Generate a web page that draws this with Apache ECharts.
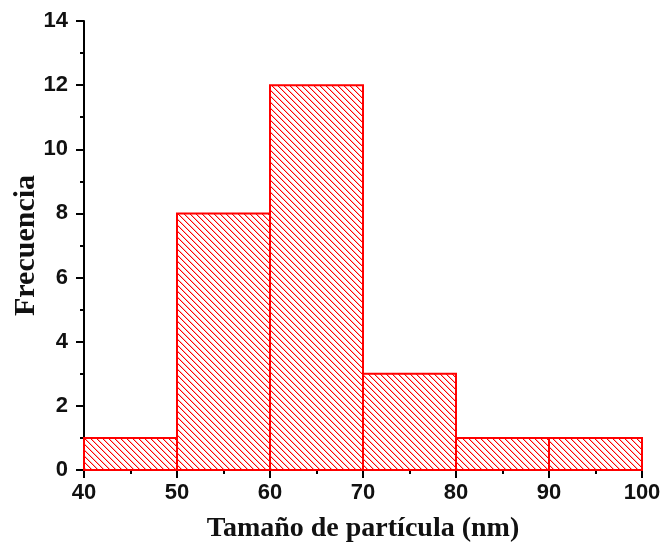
<!DOCTYPE html>
<html>
<head>
<meta charset="utf-8">
<script src="https://cdn.jsdelivr.net/npm/echarts@6/dist/echarts.min.js"></script>
<style>
html,body{margin:0;padding:0;background:#fff;}
#chart{width:662px;height:548px;}
</style>
</head>
<body>
<div id="chart"></div>
<script>
// Histogram bins (nm) and frequencies
const binStarts = [40, 50, 60, 70, 80, 90];
const binEnds   = [50, 60, 70, 80, 90, 100];
const frequencies = [1, 8, 12, 3, 1, 1];
const xTicks = [40, 50, 60, 70, 80, 90, 100];
const yTicks = [0, 2, 4, 6, 8, 10, 12, 14];

// hatch pattern tile
const tile = document.createElement('canvas');
const S = 6;
tile.width = S; tile.height = S;
const tc = tile.getContext('2d');
tc.fillStyle = '#ffffff';
tc.fillRect(0, 0, S, S);
tc.fillStyle = '#ff0000';
for (let i = 0; i < S; i++) { tc.fillRect(i, i, 1, 1); }
tc.globalAlpha = 0.3;
for (let i = 0; i < S; i++) { tc.fillRect((i + 1) % S, i, 1, 1); }

const data = binStarts.map((s, i) => [s, binEnds[i], frequencies[i]]);

const chart = echarts.init(document.getElementById('chart'), null, {renderer: 'canvas'});
const labelFont = {fontFamily: 'Liberation Sans, Arial, sans-serif', fontWeight: 'bold', fontSize: 22, color: '#111'};
chart.setOption({
  animation: false,
  backgroundColor: '#fff',
  grid: {left: 84, right: 20, top: 21, bottom: 78, containLabel: false, outerBoundsMode: 'none'},
  xAxis: {
    type: 'value', min: 40, max: 100, interval: 10,
    name: 'Tamaño de partícula (nm)', nameLocation: 'middle', nameGap: 45, nameMoveOverlap: false,
    nameTextStyle: {fontFamily: 'Liberation Serif, Times New Roman, serif', fontWeight: 'bold', fontSize: 28, color: '#111'},
    axisLine: {show: true, lineStyle: {color: '#000', width: 2}},
    axisTick: {show: true, inside: false, length: 8, lineStyle: {color: '#000', width: 2}},
    minorTick: {show: true, splitNumber: 2, length: 4, lineStyle: {color: '#000', width: 2}},
    axisLabel: Object.assign({margin: 12, showMaxLabel: true, showMinLabel: true}, labelFont),
    splitLine: {show: false}
  },
  yAxis: {
    type: 'value', min: 0, max: 14, interval: 2,
    name: 'Frecuencia', nameLocation: 'middle', nameGap: 43, nameMoveOverlap: false,
    nameTextStyle: {fontFamily: 'Liberation Serif, Times New Roman, serif', fontWeight: 'bold', fontSize: 30, color: '#111'},
    axisLine: {show: true, lineStyle: {color: '#000', width: 2}},
    axisTick: {show: true, inside: false, length: 8, lineStyle: {color: '#000', width: 2}},
    minorTick: {show: true, splitNumber: 2, length: 4, lineStyle: {color: '#000', width: 2}},
    axisLabel: Object.assign({margin: 16}, labelFont),
    splitLine: {show: false}
  },
  series: [{
    type: 'custom',
    data: data,
    encode: {x: [0, 1], y: 2},
    renderItem: function (params, api) {
      const p0 = api.coord([api.value(0), api.value(2)]);
      const p1 = api.coord([api.value(1), 0]);
      return {
        type: 'rect',
        shape: {x: p0[0], y: p0[1], width: p1[0] - p0[0], height: p1[1] - p0[1]},
        style: {fill: {image: tile, repeat: 'repeat'}, stroke: '#ff0000', lineWidth: 2}
      };
    }
  }]
});
</script>
</body>
</html>
